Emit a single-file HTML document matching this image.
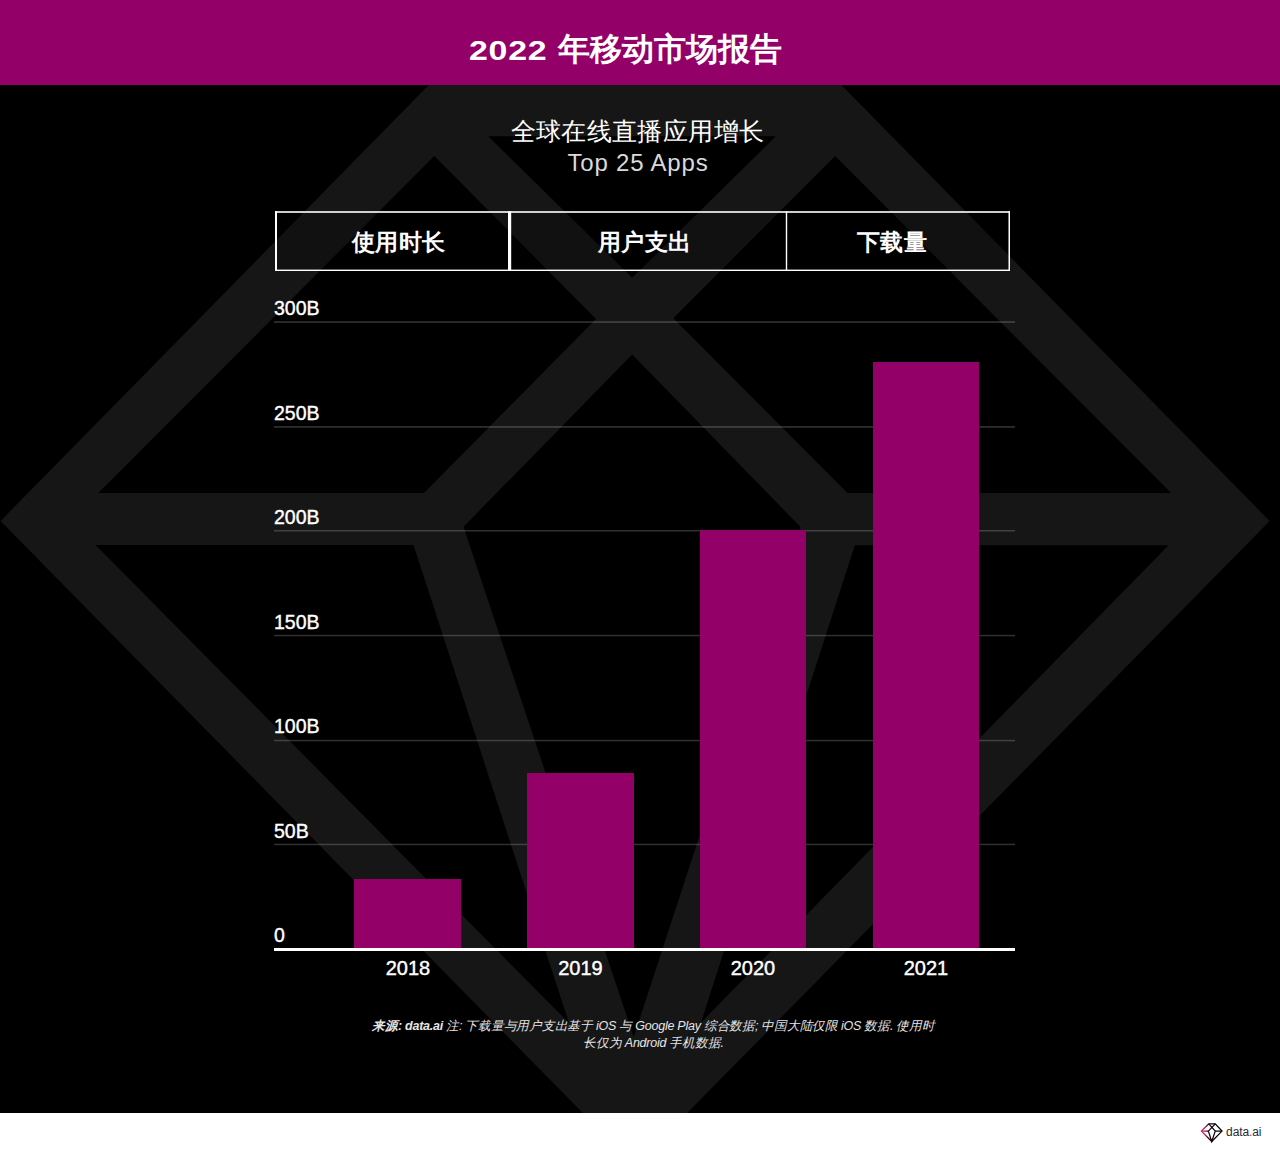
<!DOCTYPE html>
<html><head><meta charset="utf-8">
<style>
*{margin:0;padding:0;box-sizing:border-box}
html,body{width:1280px;height:1152px;overflow:hidden;background:#000;font-family:"Liberation Sans",sans-serif;color:#fff}
#hdr{position:absolute;left:0;top:0;width:1280px;height:84.5px;background:#920068;z-index:5}
#ttl{position:absolute;left:-14.25px;top:7px;width:1280px;text-align:center;font-weight:bold;font-size:31.5px;line-height:84px;white-space:nowrap}
#bg{position:absolute;left:0;top:0;z-index:0}
#foot{position:absolute;left:0;top:1112.5px;width:1280px;height:40px;background:#fff;z-index:5}
.abs{position:absolute;white-space:nowrap}
#sub1{left:-2.5px;width:1280px;text-align:center;top:114.5px;font-size:25.4px;line-height:32px;letter-spacing:0.4px}
#sub2{left:-2px;width:1280px;text-align:center;top:147.5px;font-size:24px;line-height:30px;color:#dadada;letter-spacing:0.8px}
.tab{position:absolute;z-index:2;top:213.8px;width:200px;height:56.5px;font-size:23.3px;letter-spacing:0.5px;font-weight:bold;line-height:56px;text-align:center;white-space:nowrap}
.yl{position:absolute;left:274px;font-size:19.5px;font-weight:normal;-webkit-text-stroke:0.4px #fff;line-height:20px}
.bar{position:absolute;background:#920068}
.xl{position:absolute;width:120px;text-align:center;font-size:20px;font-weight:normal;-webkit-text-stroke:0.4px #fff;line-height:20px;top:957.5px}
#axis{position:absolute;left:274px;top:948.3px;width:741px;height:2.5px;background:#fff}
#note{position:absolute;left:353.5px;width:600px;top:1018.2px;text-align:center;font-size:12.5px;line-height:17px;font-style:italic;color:#e6e6e6;letter-spacing:-0.25px}
</style></head><body>
<svg id="bg" width="1280" height="1152" viewBox="0 0 1280 1152">
<polygon fill="#161616" points="0.5,521 443.5,70 826.7,70 1269.7,521 635,1166"/>
<g fill="#000">
<polygon points="488.2,136.3 775.8,136.3 632.2,277.7"/>
<polygon points="98.4,493 434.3,156 596,318.9 423.9,493"/>
<polygon points="673.3,318.3 835.1,156 1171.1,492.9 847.5,492.9"/>
<polygon points="632.2,354.6 800.6,527 633.7,1037 463.5,526.8"/>
<polygon points="95.6,545 413.5,545 569,1023"/>
<polygon points="854.8,545.2 1168.6,545.2 701,1022.5"/>
</g>
</svg>
<div id="hdr"><div id="ttl"><span style="display:inline-block;font-size:28px;letter-spacing:0.6px;transform:scaleX(1.21);transform-origin:0 0;margin-right:15.5px">2022</span> <span>年移动市场报告</span></div></div>

<div id="sub1" class="abs">全球在线直播应用增长</div>
<div id="sub2" class="abs">Top 25 Apps</div>

<svg style="position:absolute;left:0;top:0;z-index:1" width="1280" height="300" viewBox="0 0 1280 300"><g fill="#fff">
<rect x="275" y="211.1" width="735" height="60.3" fill="#000" fill-opacity="0.2"/>
<rect x="275" y="211.2" width="735" height="1.6"/>
<rect x="275" y="269.6" width="735" height="1.4"/>
<rect x="275" y="211.2" width="2" height="59.8"/>
<rect x="1008.5" y="211.2" width="1.5" height="59.8"/>
<rect x="508" y="211.2" width="3.2" height="59.8"/>
<rect x="785.8" y="211.2" width="1.4" height="59.8"/>
</g></svg>
<div class="tab" style="left:298.9px">使用时长</div>
<div class="tab" style="left:544.6px">用户支出</div>
<div class="tab" style="left:792px">下载量</div>


<svg style="position:absolute;left:0;top:0" width="1280" height="1000" viewBox="0 0 1280 1000"><g fill="#fff" fill-opacity="0.19">
<rect x="274" y="321.2" width="741" height="1.7"/>
<rect x="274" y="426.1" width="741" height="1.7"/>
<rect x="274" y="530" width="741" height="1.5"/>
<rect x="274" y="634.8" width="741" height="1.5"/>
<rect x="274" y="739.8" width="741" height="1.5"/>
<rect x="274" y="843.7" width="741" height="1.5"/>
</g></svg>

<div class="yl" style="top:298px">300B</div>
<div class="yl" style="top:403px">250B</div>
<div class="yl" style="top:507px">200B</div>
<div class="yl" style="top:612px">150B</div>
<div class="yl" style="top:716px">100B</div>
<div class="yl" style="top:821px">50B</div>
<div class="yl" style="top:925px">0</div>

<div class="bar" style="left:354.4px;top:879.2px;width:106.6px;height:69.8px"></div>
<div class="bar" style="left:527.2px;top:773px;width:106.7px;height:176px"></div>
<div class="bar" style="left:700px;top:530px;width:106.4px;height:419px"></div>
<div class="bar" style="left:873.1px;top:362px;width:106px;height:587px"></div>
<div id="axis"></div>

<div class="xl" style="left:348px">2018</div>
<div class="xl" style="left:520.5px">2019</div>
<div class="xl" style="left:693px">2020</div>
<div class="xl" style="left:866px">2021</div>

<div id="note"><b>来源: data.ai</b> 注: 下载量与用户支出基于 iOS 与 Google Play 综合数据; 中国大陆仅限 iOS 数据. 使用时<br>长仅为 Android 手机数据.</div>

<div id="foot">
<svg style="position:absolute;left:0;top:0" width="1280" height="40" viewBox="0 1112.5 1280 40">
<defs><linearGradient id="lg" x1="1201" y1="0" x2="1216" y2="0" gradientUnits="userSpaceOnUse"><stop offset="0" stop-color="#f0206a"/><stop offset="0.3" stop-color="#a01050"/><stop offset="0.5" stop-color="#200010"/><stop offset="1" stop-color="#000"/></linearGradient></defs>
<g fill="none" stroke="url(#lg)" stroke-width="1.25" stroke-linejoin="miter">
<path d="M1208.75,1123.4 L1215.25,1123.4 L1222,1130.6 L1211.75,1141 L1201.4,1130.6 Z"/>
<path d="M1208.75,1123.4 L1215.25,1130.6 L1211.75,1141 L1208.4,1130.6 L1215.25,1123.4"/>
<path d="M1201.4,1130.6 L1208.4,1130.6 M1215.25,1130.6 L1222,1130.6"/>
</g>
</svg>
<div style="position:absolute;left:1226.1px;top:11.5px;font-size:12px;line-height:16px;color:#2a2a2a;letter-spacing:-0.1px">data<span style="color:#f0206a">.</span>ai</div>
</div>
</body></html>
